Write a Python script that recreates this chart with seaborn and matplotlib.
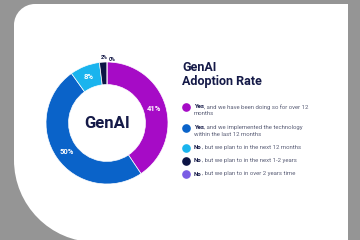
import matplotlib
matplotlib.use("Agg")
import matplotlib.pyplot as plt
import seaborn as sns
import numpy as np
from matplotlib.path import Path
from matplotlib.patches import PathPatch
from matplotlib.lines import Line2D
import matplotlib.transforms as mtrans

# ---- data ----
values = [41, 50, 8, 2, 0]
pct_labels = ["41%", "50%", "8%", "2%", "0%"]
colors = ["#a60bc6", "#0a63c9", "#1ab4ee", "#0c1445", "#7a5ce4"]
legend_bold = ["Yes", "Yes", "No", "No", "No"]
legend_rest = [
    [", and we have been doing so for over 12", "months"],
    [", and we implemented the technology", "within the last 12 months"],
    [", but we plan to in the next 12 months"],
    [", but we plan to in the next 1-2 years"],
    [", but we plan to in over 2 years time"],
]
center_label = "GenAI"
title_text = "GenAI\nAdoption Rate"

sns.set_theme(style="white")
plt.rcParams["font.family"] = ["Roboto", "DejaVu Sans"]

NAVY = "#151a48"
GREY = "#5c6078"

W, H = 360, 240
fig = plt.figure(figsize=(3.6, 2.4), dpi=100)
fig.patch.set_facecolor("#959595")

# pixel transform (origin top-left)
pix = mtrans.Affine2D().scale(1 / W, -1 / H).translate(0, 1) + fig.transFigure

# white card
L, R, T, B = 14, 348, 4, 242
rt = 21
k = 0.55
bx, by = 81, 82
verts = [
    (L, T + rt),
    (L, T + rt - k * rt), (L + rt - k * rt, T), (L + rt, T),
    (R, T),
    (R, B + 5),
    (L + bx, B + 5),
    (L + bx, B),
    (L + bx - k * bx, B), (L, B - by + k * by), (L, B - by),
    (L, T + rt),
]
codes = [Path.MOVETO, Path.CURVE4, Path.CURVE4, Path.CURVE4, Path.LINETO,
         Path.LINETO, Path.LINETO, Path.LINETO, Path.CURVE4, Path.CURVE4,
         Path.CURVE4, Path.CLOSEPOLY]
card = PathPatch(Path(verts, codes), facecolor="white", edgecolor="none",
                 transform=pix, zorder=-5)
fig.add_artist(card)

# donut axes
cx, cy, r = 107, 123, 61
ax = fig.add_axes([(cx - r) / W, 1 - (cy + r) / H, 2 * r / W, 2 * r / H])
ax.set_zorder(2)
ax.patch.set_visible(False)
wedges, _ = ax.pie(values, colors=colors, startangle=90, counterclock=False,
                   radius=1.0, wedgeprops=dict(width=0.37, edgecolor="white",
                                               linewidth=0.5))
ax.set_xlim(-1, 1)
ax.set_ylim(-1, 1)
ax.set_aspect("equal")
ax.axis("off")

total = sum(values)
ang = 90.0
for v, lab in zip(values, pct_labels):
    span = 360.0 * v / total
    mid = np.deg2rad(ang - span / 2)
    if v >= 5:
        rr = 0.81
        ax.text(rr * np.cos(mid), rr * np.sin(mid), lab, color="white",
                fontsize=5.5, fontweight="bold", ha="center", va="center")
    else:
        if v > 0:
            rr, ha, xo = 1.07, "right", 0.07
        else:
            rr, ha, xo = 1.04, "left", 0.035
        ax.text(rr * np.cos(mid) + xo, rr * np.sin(mid), lab, color=NAVY,
                fontsize=3.8, fontweight="bold", ha=ha, va="center")
    ang -= span

ax.text(0, 0, center_label, color=NAVY, fontsize=12, fontweight="bold",
        ha="center", va="center")

# title
fig.text(182 / W, 1 - 61 / H, title_text, color=NAVY, fontsize=9,
         fontweight="bold", ha="left", va="top", linespacing=1.15, zorder=3)

# legend
rows = [107, 127.5, 147.5, 160.7, 174]
for i, y in enumerate(rows):
    fig.add_artist(Line2D([185.5], [y], marker="o", markersize=5.2,
                          color=colors[i], linestyle="none", transform=pix,
                          zorder=3))
    tb = fig.text(194 / W, 1 - y / H, legend_bold[i], color=NAVY, fontsize=4.3,
                  fontweight="bold", ha="left", va="center", zorder=3)
    ann = plt.annotate(legend_rest[i][0], xy=(1, 0.5), xycoords=tb,
                       color=GREY, fontsize=4.3, ha="left", va="center",
                       annotation_clip=False)
    ann.remove()
    ann.set_zorder(3)
    fig.add_artist(ann)
    if len(legend_rest[i]) > 1:
        fig.text(194 / W, 1 - (y + 6.8) / H, legend_rest[i][1], color=GREY,
                 fontsize=4.3, ha="left", va="center", zorder=3)

fig.savefig("out.png", dpi=100, facecolor=fig.get_facecolor())
